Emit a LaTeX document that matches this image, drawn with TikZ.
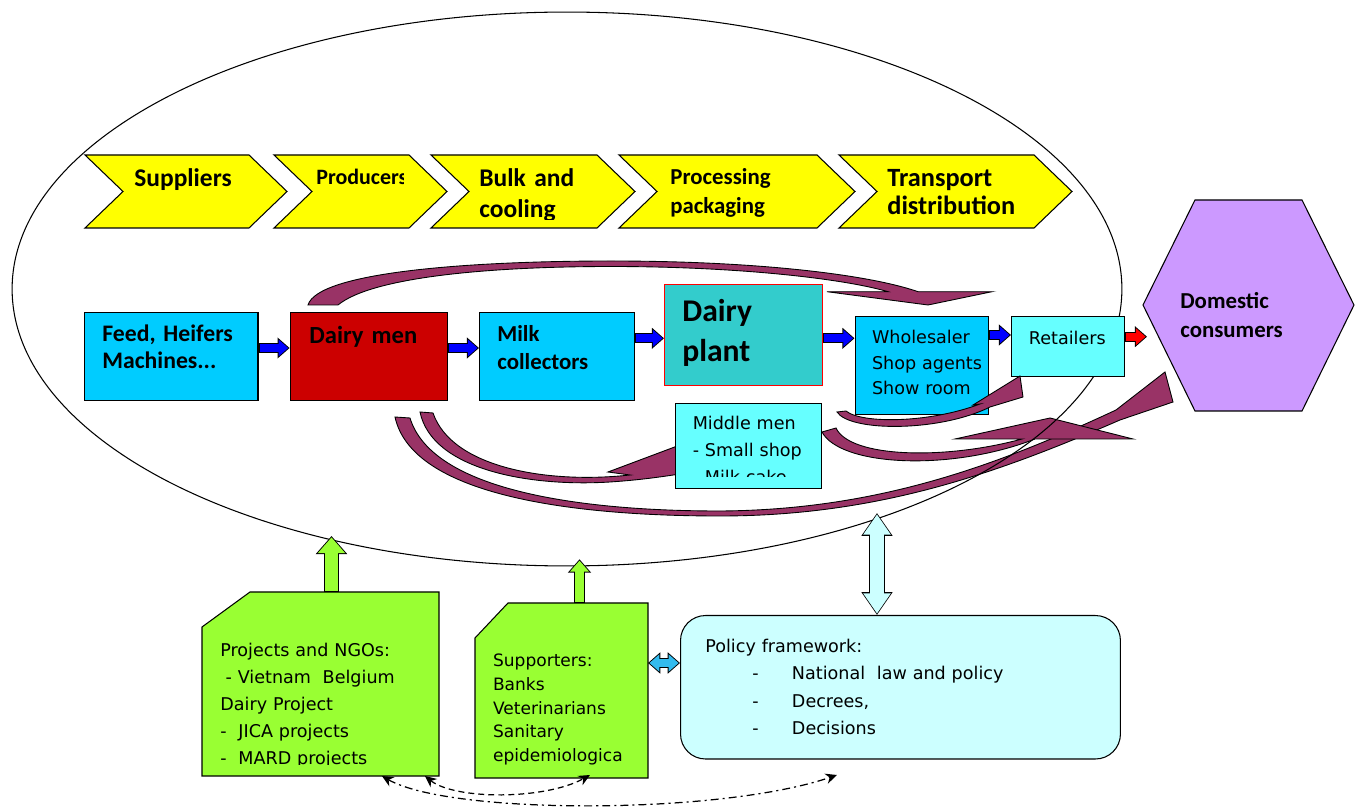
\documentclass[tikz,border=0pt]{standalone}
\usepackage{fontspec}
\setmainfont{Carlito}
\newfontfamily\dejavu{DejaVu Sans}
\usetikzlibrary{arrows.meta}

\definecolor{feedblue}{HTML}{00CCFF}
\definecolor{dairyred}{HTML}{CC0000}
\definecolor{plantteal}{HTML}{33CCCC}
\definecolor{shopcyan}{HTML}{66FFFF}
\definecolor{consumerpurple}{HTML}{CC99FF}
\definecolor{chevyellow}{HTML}{FFFF00}
\definecolor{supportgreen}{HTML}{99FF33}
\definecolor{policycyan}{HTML}{CCFFFF}
\definecolor{flowmaroon}{HTML}{993366}
\definecolor{flowblue}{HTML}{0000FF}
\definecolor{flowred}{HTML}{FF0000}
\definecolor{linkblue}{HTML}{33BBEE}

% block arrow: black outline first, then the coloured body
\newcommand{\blockarrow}[4]{%
  \draw[line width=#2+1.1pt, #3] #4;
  \draw[#1, line width=#2, #3, shorten >=0.8pt, shorten <=0.8pt] #4;}
\newcommand{\policyitem}[1]{\hspace*{26.7pt}\makebox[22.6pt][l]{-}#1}

\tikzset{
  blocktip/.tip={Triangle[length=0pt 1.25, width=0pt 2.1]},
  slimtip/.tip={Triangle[length=0pt 1.35, width=0pt 1.75]},
  linktip/.tip={Stealth[length=6.5pt, width=6pt]},
  box/.style={draw, anchor=north west, inner sep=0pt, line width=0.6pt},
  chevron/.style={draw, fill=chevyellow, line width=0.6pt},
  greenbox/.style={draw, fill=supportgreen, line width=0.6pt},
  curvedarrow/.style={draw, fill=flowmaroon, line width=0.5pt},
  boldlabel/.style 2 args={anchor=base west, inner sep=0pt, text width=6cm, align=left, font=\bfseries\fontsize{#1}{#2}\selectfont},
  plainlabel/.style 2 args={anchor=base west, inner sep=0pt, text width=8cm, align=left, font=\dejavu\fontsize{#1}{#2}\selectfont},
  dashlink/.style={line width=0.7pt, dash pattern=on 3.4pt off 2.3pt},
  dotlink/.style={line width=0.7pt, dash pattern=on 4.5pt off 2.3pt on 1.2pt off 2.3pt}
}

\begin{document}
\begin{tikzpicture}[x=0.02cm, y=-0.02cm]
\path[use as bounding box, fill=white] (0,0) rectangle (1357,807);

% curved flows
\draw[curvedarrow] (308,305) .. controls (318,272) and (470,261) .. (611,261) .. controls (760,261) and (870,275) .. (918,291.7) -- (992,291.7) -- (928,305) -- (827,291.7) -- (888,291.7) .. controls (845,279) and (740,266.5) .. (611,266.5) .. controls (490,266.5) and (372,277) .. (338,305) -- cycle;
\draw[curvedarrow] (420,412) .. controls (432,470) and (530,487) .. (610,482) .. controls (640,480) and (660,477) .. (680,474) -- (680,445) -- (608,472) -- (630,475) .. controls (548,484) and (452,468) .. (433,413) -- cycle;
\draw[curvedarrow] (395,417) .. controls (412,495) and (570,516) .. (720,516) .. controls (880,516) and (1000,472) .. (1120,420) -- (1173,402) -- (1165,372) -- (1116,410) .. controls (1000,464) and (880,510) .. (720,511) .. controls (578,511) and (432,490) .. (410,418) -- cycle;
\draw[curvedarrow] (822,432) .. controls (840,466) and (950,472) .. (1035,439) -- (1133,439) -- (1050,418) -- (955,439) -- (1022,439) .. controls (945,460) and (850,458) .. (836,428) -- cycle;

% value chain ellipse
\draw[line width=0.6pt] (567,289) ellipse [x radius=11.1cm, y radius=5.54cm];

% stages
\foreach \l/\t in {85/287, 274/447, 431/635, 619/855, 839/1072}
  \draw[chevron] (\l,155) -- (\t-38,155) -- (\t,191.5) -- (\t-38,228) -- (\l,228) -- (\l+38,191.5) -- cycle;
\node[boldlabel={14.5}{17}] (supplierstext) at (134,186.7) {Suppliers};
\begin{scope}
  \clip (300,150) rectangle (403,230);
  \node[boldlabel={12.5}{15}] (producerstext) at (316,185) {Producers};
\end{scope}
\begin{scope}
  \clip (470,150) rectangle (860,219.5);
  \node[boldlabel={14.5}{17.3}] (bulktext) at (479,186.7) {Bulk and\\cooling};
  \node[boldlabel={13}{16.4}] (processingtext) at (670,185) {Processing\\packaging};
\end{scope}
\node[boldlabel={15}{16}] (transporttext) at (887,186.7) {Transport\\distribution};

% actors
\node[box, fill=feedblue, minimum width=3.47cm, minimum height=1.76cm] (feed) at (84,312) {};
\node[box, fill=dairyred, minimum width=3.14cm, minimum height=1.76cm] (dairymen) at (289.6,312) {};
\node[box, fill=feedblue, minimum width=3.1cm, minimum height=1.76cm] (milk) at (479,312) {};
\node[box, draw=flowred, fill=plantteal, minimum width=3.16cm, minimum height=2.02cm] (plant) at (664,284) {};
\node[box, fill=feedblue, minimum width=2.67cm, minimum height=1.96cm] (wholesaler) at (854.5,316) {};
\node[box, fill=shopcyan, minimum width=2.26cm, minimum height=1.2cm] (retailers) at (1011,316) {};
\node[box, fill=shopcyan, minimum width=2.92cm, minimum height=1.7cm] (middlemen) at (675,403) {};

\node[boldlabel={13.5}{15.1}] (feedtext) at (102,341.7) {Feed, Heifers\\Machines...};
\node[boldlabel={14}{16}] (dairymentext) at (309,343.3) {Dairy men};
\node[boldlabel={13}{16}] (milktext) at (497,341.7) {Milk\\collectors};
\node[boldlabel={18}{22.7}] (planttext) at (682,321.7) {Dairy\\plant};
\node[plainlabel={10}{14.5}] (wholesalertext) at (871.7,344) {Wholesaler\\Shop agents\\Show room};
\node[plainlabel={10}{14}] (retailerstext) at (1028.6,345) {Retailers};
\begin{scope}
  \clip (675,403) rectangle (822,476.5);
  \node[plainlabel={10}{15.1}] (middlementext) at (692.4,430) {Middle men\\- Small shop\\- Milk cake};
\end{scope}

\draw[curvedarrow] (837,412) .. controls (850,432) and (940,432) .. (990,407) -- (1023,397) -- (1020,376) -- (973,405) -- (980,404) .. controls (930,423) and (862,424) .. (846,411) -- cycle;

% consumers
\draw[fill=consumerpurple, line width=0.6pt] (1195,200) -- (1302,200) -- (1354,305) -- (1302,411) -- (1195,411) -- (1143,305) -- cycle;
\node[boldlabel={13}{16.8}] (consumerstext) at (1180,308.3) {Domestic\\consumers};
\coordinate (consumersedge) at (1147,336.7);

% product flow
\blockarrow{flowblue}{4.4pt}{-blocktip}{(feed.east |- 0,348) -- (dairymen.west |- 0,348)}
\blockarrow{flowblue}{4.4pt}{-blocktip}{(dairymen.east |- 0,348) -- (milk.west |- 0,348)}
\blockarrow{flowblue}{4.4pt}{-blocktip}{(milk.east |- 0,338.3) -- (plant.west |- 0,338.3)}
\blockarrow{flowblue}{4.4pt}{-blocktip}{(plant.east |- 0,338.3) -- (wholesaler.west |- 0,338.3)}
\blockarrow{flowblue}{4.4pt}{-blocktip}{(wholesaler.east |- 0,335) -- (retailers.west |- 0,335)}
\blockarrow{flowred}{4.4pt}{-blocktip}{(retailers.east |- 0,336.7) -- (consumersedge)}

% support
\node[box, draw=none, minimum width=4.72cm, minimum height=3.66cm] (projects) at (202,592) {};
\draw[greenbox] ([yshift=-0.7cm]projects.north west) -- ([xshift=0.96cm]projects.north west) -- (projects.north east) -- (projects.south east) -- (projects.south west) -- cycle;
\begin{scope}
  \clip (202,592) rectangle (438,764);
  \node[plainlabel={10}{15.3}] (projectstext) at (220,656.7) {Projects and NGOs:\\\hspace*{3pt}- Vietnam\ \ Belgium\\Dairy Project\\-\ \ JICA projects\\-\ \ MARD projects};
\end{scope}

\node[box, draw=none, minimum width=3.44cm, minimum height=3.48cm] (supporters) at (475,603) {};
\draw[greenbox] ([yshift=-0.7cm]supporters.north west) -- ([xshift=0.66cm]supporters.north west) -- (supporters.north east) -- (supporters.south east) -- (supporters.south west) -- cycle;
\node[plainlabel={9.7}{13.5}] (supporterstext) at (492.7,666.7) {Supporters:\\Banks\\Veterinarians\\Sanitary\\epidemiologica};

\node[box, rounded corners=0.5cm, fill=policycyan, minimum width=8.8cm, minimum height=2.87cm] (policy) at (680,615) {};
\node[plainlabel={10}{15.5}] (policytext) at (705,652.7) {Policy framework:\\\policyitem{National\ \ law and policy}\\\policyitem{Decrees,}\\\policyitem{Decisions}};

\coordinate (ellipseleft) at (331.5,536);
\coordinate (ellipsemid) at (579.5,559.3);
\coordinate (ellipsepolicy) at (877,513);
\coordinate (policylink) at (837,775);
\blockarrow{supportgreen}{7.2pt}{-blocktip}{(projects.north -| ellipseleft) -- (ellipseleft)}
\blockarrow{supportgreen}{5pt}{-blocktip}{(supporters.north -| ellipsemid) -- (ellipsemid)}
\blockarrow{policycyan}{8.5pt}{slimtip-slimtip}{(ellipsepolicy) -- (policy.north -| ellipsepolicy)}
\blockarrow{linkblue}{4.5pt}{blocktip-blocktip}{(supporters.east |- 0,663) -- (policy.west |- 0,663)}

\draw[dashlink, linktip-linktip] ([xshift=4.46cm]projects.south west) .. controls (455,800) and (545,800) .. ([xshift=2.3cm, yshift=0.06cm]supporters.south west);
\draw[dotlink, linktip-linktip] ([xshift=3.6cm]projects.south west) .. controls (450,815) and (720,815) .. (policylink);
\end{tikzpicture}
\end{document}
